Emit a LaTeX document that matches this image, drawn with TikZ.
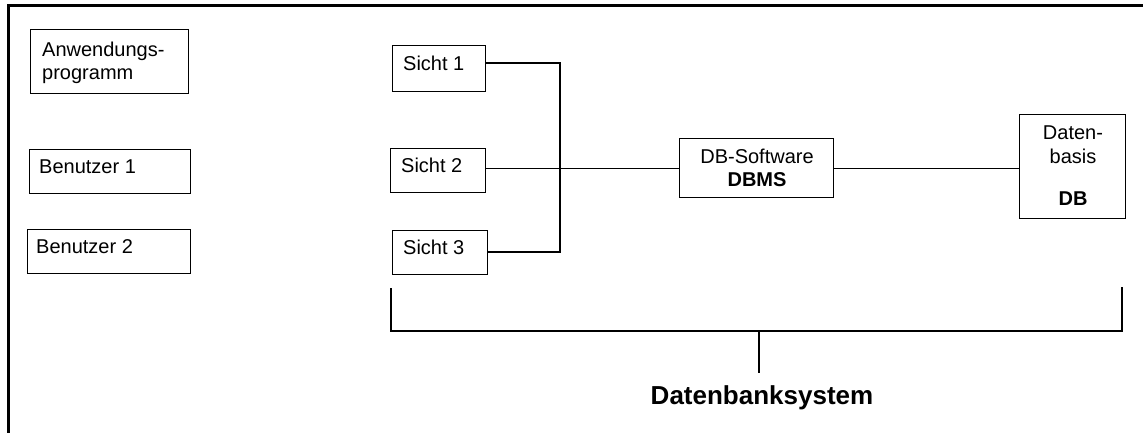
\documentclass[tikz,border=0pt]{standalone}
\usepackage{fontspec}
\setmainfont{Liberation Sans}
\begin{document}
\begin{tikzpicture}[x=1pt,y=-1pt,
  box/.style={draw,line width=1.1pt,inner sep=0pt,anchor=north west},
  txt/.style={inner sep=0pt,font=\fontsize{20}{23}\selectfont},
  btxt/.style={inner sep=0pt,font=\fontsize{20}{23}\selectfont\bfseries},
  conn/.style={line width=1.1pt}]
\useasboundingbox (0,0) rectangle (1143,432);
% frame
\draw[line width=3pt] (8,440) -- (8,5) -- (1150,5);
% left boxes
\node[box,minimum width=158pt,minimum height=64pt] (anw) at (30,29) {};
\node[box,minimum width=161pt,minimum height=44pt] (ben1) at (29,149) {};
\node[box,minimum width=163pt,minimum height=44pt] (ben2) at (27,229) {};
\node[txt,anchor=base west] (t-anw1) at (42,56) {Anwendungs-};
\node[txt,anchor=base west] (t-anw2) at (42,79) {programm};
\node[txt,anchor=base west] (t-ben1) at (39,173) {Benutzer 1};
\node[txt,anchor=base west] (t-ben2) at (36,253) {Benutzer 2};
% views
\node[box,minimum width=93pt,minimum height=46pt] (s1) at (392,45) {};
\node[box,minimum width=95pt,minimum height=44pt] (s2) at (390,148) {};
\node[box,minimum width=95pt,minimum height=44pt] (s3) at (392,230) {};
\node[txt,anchor=base west] (t-s1) at (403,70) {Sicht 1};
\node[txt,anchor=base west] (t-s2) at (401,172) {Sicht 2};
\node[txt,anchor=base west] (t-s3) at (403,254) {Sicht 3};
% DBMS
\node[box,minimum width=154pt,minimum height=59pt] (dbms) at (679,138) {};
\node[txt,anchor=base] (t-dbms1) at (757,163) {DB-Software};
\node[btxt,anchor=base] (t-dbms2) at (757,186) {DBMS};
% DB
\node[box,minimum width=106pt,minimum height=104pt] (db) at (1019,114) {};
\node[txt,anchor=base] (t-db1) at (1073,139) {Daten-};
\node[txt,anchor=base] (t-db2) at (1073,163) {basis};
\node[btxt,anchor=base] (t-db3) at (1073,205) {DB};
% connectors
\coordinate (j1) at (560,63);
\coordinate (j3) at (560,252);
\draw[conn] (s1.east |- j1) -- (j1) -- (j3) -- (s3.east |- j3);
\draw[conn] (s2.east |- dbms.west) -- (dbms.west);
\draw[conn] (dbms.east) -- (dbms.east -| db.west);
% bracket
\coordinate (b1) at (391,288);
\coordinate (b2) at (391,331);
\coordinate (b3) at (1122,331);
\coordinate (b4) at (1122,287);
\coordinate (stemtop) at (759,331);
\node[inner sep=0pt,font=\fontsize{26}{30}\selectfont\bfseries,anchor=base] (sys) at (762,404) {Datenbanksystem};
\coordinate (stembot) at (759,373);
\draw[conn] (b1) -- (b2) -- (b3) -- (b4);
\draw[conn] (stemtop) -- (stembot);
\end{tikzpicture}
\end{document}
